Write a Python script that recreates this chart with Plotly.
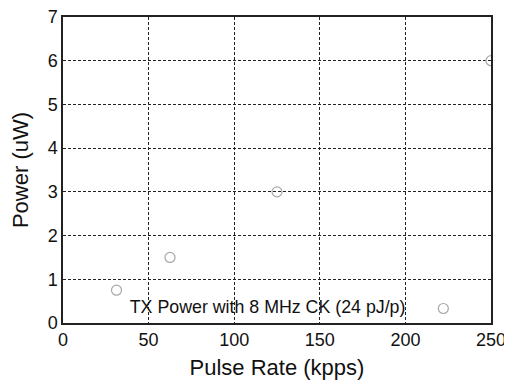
import plotly.graph_objects as go

pulse_rate = [31.25, 62.5, 125, 250]
power_uw = [0.75, 1.5, 3.0, 6.0]
series_name = "TX Power with 8 MHz CK (24 pJ/p)"
x_ticks = [0, 50, 100, 150, 200, 250]
y_ticks = [0, 1, 2, 3, 4, 5, 6, 7]

fig = go.Figure()
fig.add_trace(go.Scatter(
    x=pulse_rate, y=power_uw, mode="markers", name="",
    marker=dict(symbol="circle-open", size=10, color="#a8a8a8", line=dict(width=1.2)),
    showlegend=True,
))

font = "Arial"
fig.update_layout(
    width=504, height=375,
    margin=dict(l=55, r=21, t=9, b=60, autoexpand=False),
    paper_bgcolor="white", plot_bgcolor="white",
    font=dict(family=font, size=18, color="#111"),
    showlegend=True,
    legend=dict(
        x=0.948, y=-0.014, xanchor="right", yanchor="bottom",
        bgcolor="rgba(0,0,0,0)", borderwidth=0,
        title=dict(text=series_name + "&nbsp;&nbsp;", side="left", font=dict(size=17.8)),
        font=dict(size=18),
        itemwidth=30,
    ),
    xaxis=dict(
        range=[0, 250], tickvals=x_ticks, ticks="",
        title=dict(text="Pulse Rate (kpps)", standoff=10),
        showgrid=True, gridcolor="#222", gridwidth=1, griddash="3px,2px",
        showline=True, linecolor="#222", linewidth=1.5, mirror=True,
        zeroline=False, automargin=False, ticklabeloverflow="allow",
    ),
    yaxis=dict(
        range=[0, 7], tickvals=y_ticks, ticks="",
        title=dict(text="Power (uW)", standoff=14),
        showgrid=True, gridcolor="#222", gridwidth=1, griddash="3px,2px",
        showline=True, linecolor="#222", linewidth=1.5, mirror=True,
        zeroline=False, automargin=False, ticklabeloverflow="allow",
    ),
)

fig.write_html("out.html")
